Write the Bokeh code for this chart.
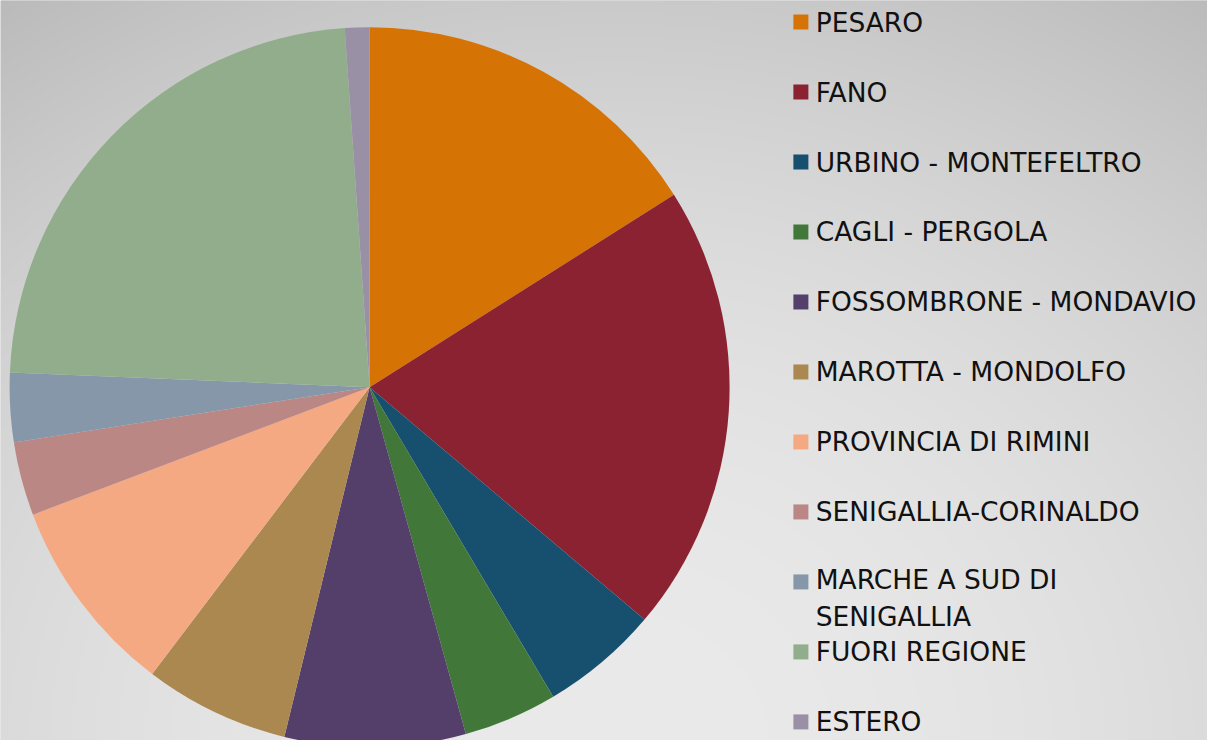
import numpy as np
from bokeh.plotting import figure
from bokeh.models import Range1d, ColumnDataSource
from bokeh.core.properties import value
from bokeh.embed import file_html
from bokeh.resources import INLINE

# ---- data ----
categories = ["PESARO", "FANO", "URBINO - MONTEFELTRO", "CAGLI - PERGOLA",
              "FOSSOMBRONE - MONDAVIO", "MAROTTA - MONDOLFO", "PROVINCIA DI RIMINI",
              "SENIGALLIA-CORINALDO", "MARCHE A SUD DI\nSENIGALLIA", "FUORI REGIONE", "ESTERO"]
shares = [16.0, 20.1, 5.3, 4.2, 8.1, 6.5, 8.9, 3.3, 3.1, 23.2, 1.1]
colors = ["#D67305", "#8B2232", "#174F6E", "#42773A", "#533F6A", "#AA884F",
          "#F4A983", "#BA8785", "#8597A8", "#91AD8C", "#9A90A6"]

W, H = 1207, 740
sx, sy = W / 1223.0, H / 756.0
p = figure(width=W, height=H, output_backend="svg", toolbar_location=None,
           x_range=Range1d(0, W), y_range=Range1d(0, H),
           x_axis_type=None, y_axis_type=None, min_border=0)
p.grid.visible = False
p.outline_line_color = None
p.background_fill_color = "#d4d4d4"
p.border_fill_color = "#d4d4d4"

# ---- background radial gradient (style only) ----
step = 4
nx, ny = W // step + 1, H // step + 1
gx = (np.arange(nx) + 0.5) * step
gy = (np.arange(ny) + 0.5) * step
X, Y = np.meshgrid(gx, gy)
px = X / sx
py = (H - Y) / sy
d = ((px - 620) / 1243.0) ** 2 + ((py - 756) / 1051.0) ** 2
c = np.clip(234 - 62 * d, 170, 240).astype(np.uint8)
img = np.empty((ny, nx), dtype=np.uint32)
view = img.view(dtype=np.uint8).reshape((ny, nx, 4))
view[..., 0] = c
view[..., 1] = c
view[..., 2] = c
view[..., 3] = 255
p.image_rgba(image=[img], x=0, y=0, dw=nx * step, dh=ny * step)

# ---- pie ----
vals = np.array(shares, dtype=float)
frac = vals / vals.sum()
cum = np.concatenate([[0], np.cumsum(frac)])
start = np.pi / 2 - 2 * np.pi * cum[:-1]
end = np.pi / 2 - 2 * np.pi * cum[1:]
src = ColumnDataSource(dict(start=start, end=end, color=colors, cat=categories))
cx, cy, r = 374 * sx, H - 395 * sy, 360
p.wedge(x=cx, y=cy, radius=r, start_angle="start", end_angle="end",
        direction="clock", fill_color="color", line_color=None, source=src)

# ---- legend (manual) ----
font_px = 26.5
line_h = 1.2
top, spacing = 22 * sy, 71.5 * sy
n = len(categories)
ly = np.array([H - (top + spacing * i) for i in range(n)])
nlines = np.array([cat.count("\n") + 1 for cat in categories])
ty = ly - (nlines - 1) * font_px * line_h / 2.0
lsrc = ColumnDataSource(dict(x=[811 * sx] * n, y=ly, tx=[826 * sx] * n, ty=ty,
                             color=colors, cat=categories))
p.scatter(x="x", y="y", marker="square", size=15, fill_color="color",
          line_color=None, source=lsrc)
p.text(x="tx", y="ty", text="cat", source=lsrc, text_font=value("DejaVu Sans"),
       text_font_size=f"{font_px}px", text_baseline="middle", text_align="left",
       text_color="#111111", text_line_height=line_h)

open("out.html", "w").write(file_html(p, INLINE))
